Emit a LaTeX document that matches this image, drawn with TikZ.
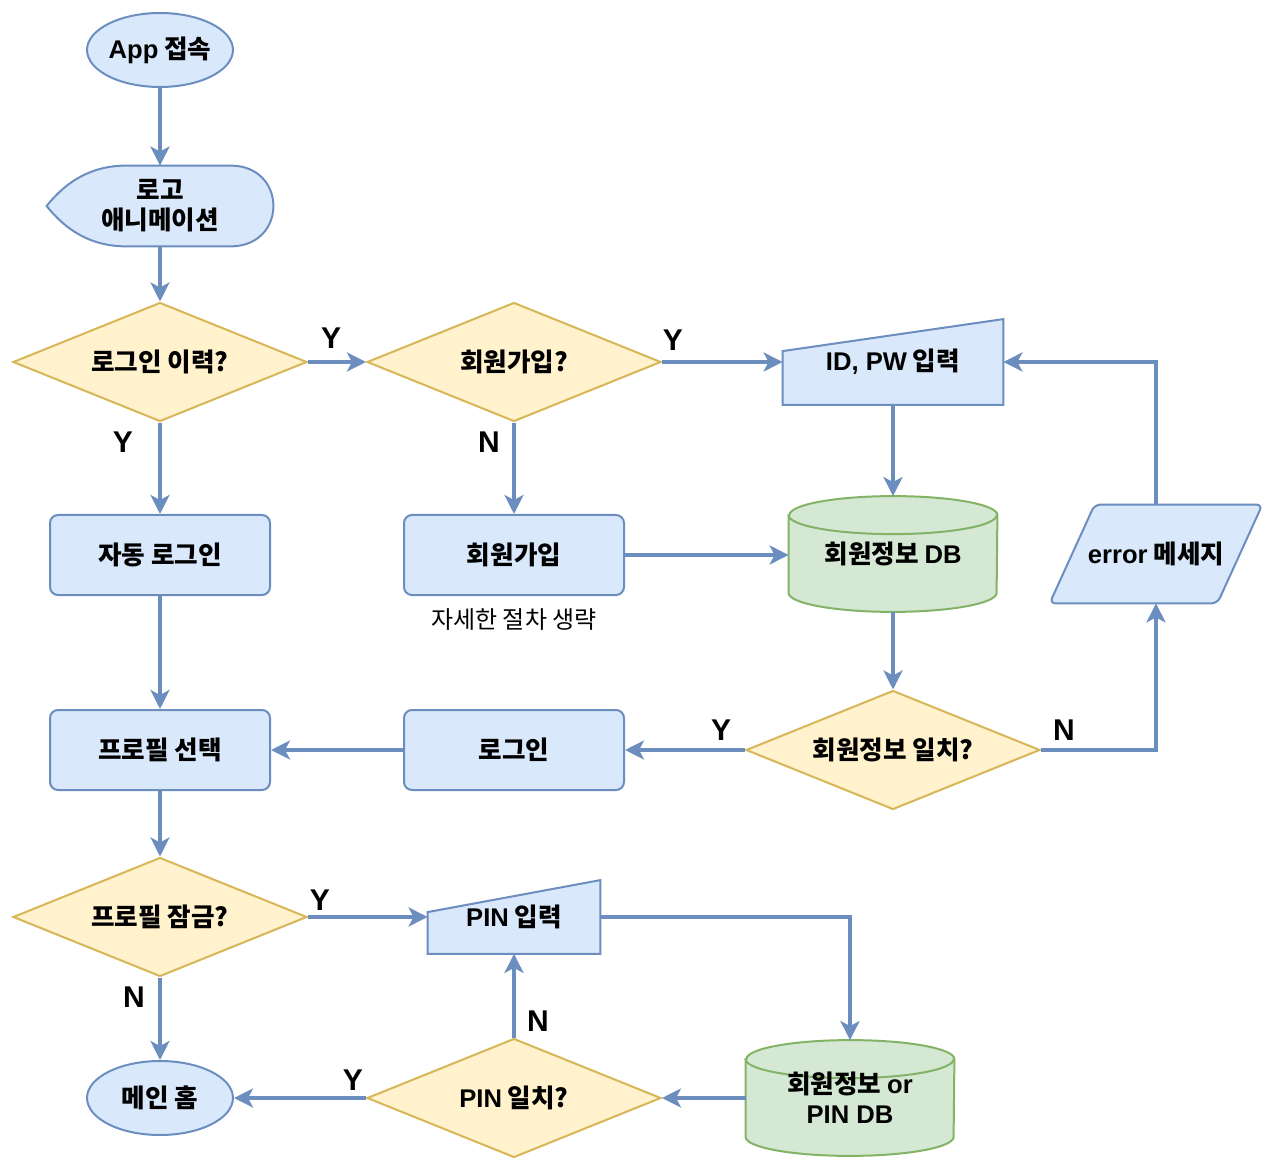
\documentclass[tikz,border=0pt]{standalone}
\usepackage{fontspec}
\setmainfont{Noto Sans CJK KR}
\newfontfamily\enfont{Liberation Sans}
\usepackage{tikz}
\usetikzlibrary{shapes.geometric}
\usetikzlibrary{backgrounds}
\usetikzlibrary{calc, positioning, arrows.meta}
\definecolor{bluefill}{HTML}{DAE8FC}
\definecolor{bluestroke}{HTML}{6C8EBF}
\definecolor{yellowfill}{HTML}{FFF2CC}
\definecolor{yellowstroke}{HTML}{D6B656}
\definecolor{greenfill}{HTML}{D5E8D4}
\definecolor{greenstroke}{HTML}{82B366}
\newcommand{\en}[1]{{\enfont\bfseries #1}}
\newcommand{\boxfont}{\fontsize{12.8pt}{15pt}\selectfont\bfseries}
\newcommand{\notefont}{\fontsize{12pt}{15pt}\selectfont}
\newcommand{\ynfont}{\enfont\fontsize{15pt}{18pt}\selectfont\bfseries}
\tikzset{startstop/.style={draw=bluestroke, fill=bluefill, ellipse, line width=1pt, minimum width=73pt, minimum height=37pt, inner sep=0pt, font=\boxfont}}
\tikzset{process/.style={draw=bluestroke, fill=bluefill, rectangle, rounded corners=4pt, line width=1pt, minimum width=110pt, minimum height=40pt, inner sep=0pt, font=\boxfont}}
\tikzset{decision/.style={draw=yellowstroke, fill=yellowfill, diamond, aspect=2.47, line width=1pt, minimum width=147pt, minimum height=59.5pt, inner sep=0pt, font=\boxfont}}
\tikzset{display box/.style={rectangle, minimum width=113pt, minimum height=40pt, inner sep=0pt, align=center, font=\boxfont}}
\tikzset{manual input/.style={rectangle, minimum width=110pt, minimum height=42.5pt, inner sep=0pt, font=\boxfont}}
\tikzset{database/.style={rectangle, minimum width=104pt, minimum height=57.5pt, inner sep=0pt, align=center, font=\boxfont}}
\tikzset{data out/.style={rectangle, minimum width=106pt, minimum height=49pt, inner sep=0pt, font=\boxfont}}
\tikzset{blue shape/.style={draw=bluestroke, fill=bluefill, line width=1pt}}
\tikzset{green shape/.style={draw=greenstroke, fill=greenfill, line width=1pt}}
\tikzset{flow/.style={->, draw=bluestroke, line width=1.7pt}}
\tikzset{yn/.style={font=\ynfont, inner sep=0pt}}
\newcommand{\dbdraw}[1]{%
  \draw[green shape] ($(#1.north west)+(0,19)$) -- ($(#1.south west)+(0,-19)$)
    arc[start angle=180, end angle=360, x radius=52pt, y radius=9.5pt]
    -- ($(#1.north east)+(0,19)$)
    arc[start angle=0, end angle=180, x radius=52pt, y radius=9.5pt] -- cycle;
  \draw[green shape, fill=none] ($(#1.north west)+(0,19)$)
    arc[start angle=180, end angle=360, x radius=52pt, y radius=9.5pt];}
\newcommand{\manualdraw}[1]{%
  \draw[blue shape] (#1.south west) -- ($(#1.north west)+(0,32)$) -- (#1.north east) -- (#1.south east) -- cycle;}

\begin{document}
\begin{tikzpicture}[x=0.5pt, y=-0.5pt, >={Stealth[length=9.5pt, width=9.5pt, inset=2.5pt]}]
\useasboundingbox (0,0) rectangle (1280,1171);
% left column
\node[startstop] (app) at (160,50) {\en{App} 접속};
\node[display box, node distance=78pt, below of=app] (logo) {로고\\애니메이션};
\node[decision, node distance=78pt, below of=logo] (lh) {로그인 이력?};
\node[process, node distance=96.5pt, below of=lh] (auto) {자동 로그인};
\node[process, node distance=97.5pt, below of=auto] (prof) {프로필 선택};
\node[decision, node distance=83.5pt, below of=prof] (lock) {프로필 잠금?};
\node[startstop, node distance=90.5pt, below of=lock] (home) {메인 홈};
% middle column
\node[decision, node distance=177pt, right of=lh] (mem) {회원가입?};
\node[process, node distance=96.5pt, below of=mem] (signup) {회원가입};
\node[font=\notefont, node distance=32.5pt, below of=signup] (note) {자세한 절차 생략};
\node[process, node distance=177pt, right of=prof] (login) {로그인};
\node[manual input, minimum width=86pt, minimum height=36.5pt, node distance=177pt, right of=lock] (pin) {\en{PIN} 입력};
\node[decision, node distance=177pt, right of=home] (pinok) {\en{PIN} 일치?};
% right columns
\node[manual input, node distance=189.5pt, right of=mem] (idpw) {\en{ID, PW} 입력};
\node[database, node distance=96pt, below of=idpw] (db) {회원정보 \en{DB}};
\node[data out, node distance=131.5pt, right of=db] (err) {\en{error} 메세지};
\node[decision, node distance=189.5pt, right of=login] (match) {회원정보 일치?};
\node[database, node distance=168pt, right of=pinok] (pindb) {회원정보 \en{or}\\\en{PIN DB}};

\begin{scope}[on background layer]
\draw[blue shape] (logo.west) .. controls +(20,-25) and +(-35,0) .. ($(logo.north west)+(80,0)$)
  -- ($(logo.north east)+(-43,0)$) .. controls +(28,0) and +(0,-21) .. (logo.east)
  .. controls +(0,21) and +(28,0) .. ($(logo.south east)+(-43,0)$)
  -- ($(logo.south west)+(80,0)$) .. controls +(-35,0) and +(20,25) .. (logo.west) -- cycle;
\manualdraw{idpw}
\manualdraw{pin}
\dbdraw{db}
\dbdraw{pindb}
\draw[blue shape, rounded corners=3pt] (err.south west) -- ($(err.north west)+(45,0)$) -- (err.north east) -- ($(err.south east)+(-45,0)$) -- cycle;
\end{scope}

\draw[flow] (app) -- (logo);
\draw[flow] (logo) -- (lh);
\draw[flow] (lh) to node[yn, pos=0.4, yshift=12pt] {Y} (mem);
\draw[flow] (lh) to node[yn, pos=0.21, xshift=-18.5pt] {Y} (auto);
\draw[flow] (mem) to node[yn, pos=0.09, yshift=11pt] {Y} (mem -| idpw.west);
\draw[flow] (mem) to node[yn, pos=0.21, xshift=-12.5pt] {N} (signup);
\draw[flow] (idpw) -- (db);
\draw[flow] (signup) -- (signup -| db.west);
\draw[flow] (db) -- (match);
\draw[flow] (match) to node[yn, pos=0.2, yshift=10pt] {Y} (login);
\draw[flow] (match) -| node[yn, pos=0.1, yshift=10pt] {N} (err);
\draw[flow] (err) |- (idpw);
\draw[flow] (auto) -- (prof);
\draw[flow] (login) -- (prof);
\draw[flow] (prof) -- (lock);
\draw[flow] (lock) to node[yn, pos=0.1, yshift=8.5pt] {Y} (pin);
\draw[flow] (lock) to node[yn, pos=0.24, xshift=-13pt] {N} (home);
\draw[flow] (pin) -| (pindb);
\draw[flow] (pindb) -- (pinok);
\draw[flow] (pinok) to node[yn, pos=0.19, xshift=12pt] {N} (pin);
\draw[flow] (pinok) to node[yn, pos=0.1, yshift=9pt] {Y} (home);
\end{tikzpicture}
\end{document}
